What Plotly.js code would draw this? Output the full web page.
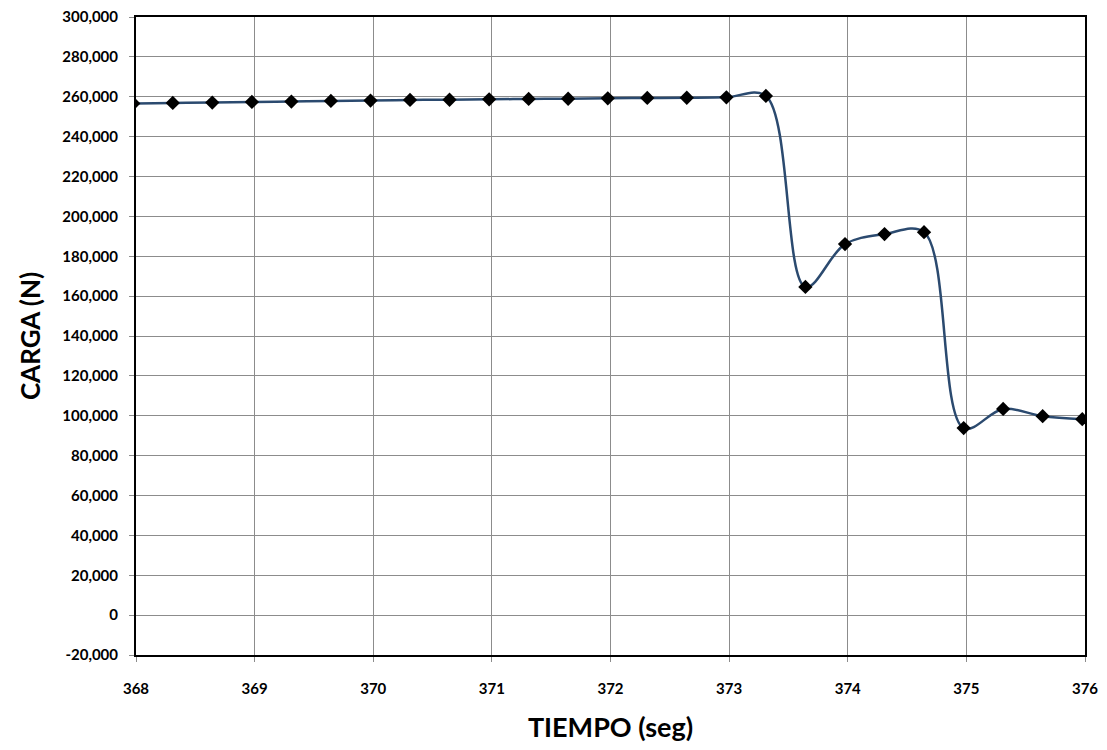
<!DOCTYPE html>
<html>
<head>
<meta charset="utf-8">
<script src="https://cdn.plot.ly/plotly-3.0.1.min.js"></script>
<style>html,body{margin:0;padding:0;background:#fff;}#chart{width:1107px;height:750px;}</style>
</head>
<body>
<div id="chart"></div>
<script>
// Time (s) and load (N)
const tiempo = [367.977, 368.31, 368.643, 368.977, 369.31, 369.643, 369.977, 370.31, 370.643, 370.977,
  371.31, 371.643, 371.977, 372.31, 372.643, 372.977, 373.31, 373.643, 373.977, 374.31,
  374.643, 374.977, 375.31, 375.643, 375.977];
const carga = [256600, 256900, 257100, 257400, 257600, 257900, 258100, 258400, 258500, 258700,
  258900, 259000, 259200, 259400, 259500, 259700, 260400, 164600, 186100, 191100,
  192100, 93800, 103400, 99800, 98300];
const xTicks = [368, 369, 370, 371, 372, 373, 374, 375, 376];
const yTicks = [-20000, 0, 20000, 40000, 60000, 80000, 100000, 120000, 140000, 160000,
  180000, 200000, 220000, 240000, 260000, 280000, 300000];
const yTickText = ["-20,000", "0", "20,000", "40,000", "60,000", "80,000", "100,000", "120,000",
  "140,000", "160,000", "180,000", "200,000", "220,000", "240,000", "260,000", "280,000", "300,000"];

const font = "Lato, 'Open Sans', sans-serif";
Plotly.newPlot('chart', [{
  x: tiempo, y: carga, type: 'scatter', mode: 'lines+markers',
  line: {color: '#2b4a6f', width: 2.5, shape: 'spline', smoothing: 1},
  marker: {symbol: 'diamond', color: '#000000', size: 11},
  cliponaxis: true
}], {
  width: 1107, height: 750,
  margin: {l: 136, r: 22, t: 17, b: 95},
  paper_bgcolor: '#ffffff', plot_bgcolor: '#ffffff',
  showlegend: false,
  font: {family: font, color: '#000000'},
  xaxis: {
    range: [368, 376], tickvals: xTicks, ticktext: xTicks.map(String),
    showgrid: true, gridcolor: '#8c8c8c', gridwidth: 1,
    showline: true, linecolor: '#000000', linewidth: 2, mirror: true,
    ticks: 'outside', ticklen: 5, tickcolor: '#8c8c8c',
    ticklabelstandoff: 14,
    tickfont: {family: font, size: 15, color: '#000000', weight: 'bold'},
    zeroline: false,
    title: {text: 'TIEMPO (seg)', font: {family: font, size: 27, color: '#000000', weight: 'bold'}, standoff: 22}
  },
  yaxis: {
    range: [-20000, 300000], tickvals: yTicks, ticktext: yTickText,
    showgrid: true, gridcolor: '#8c8c8c', gridwidth: 1,
    showline: true, linecolor: '#000000', linewidth: 2, mirror: true,
    ticks: 'outside', ticklen: 5, tickcolor: '#8c8c8c',
    ticklabelstandoff: 8,
    tickfont: {family: font, size: 15, color: '#000000', weight: 'bold'},
    zeroline: false,
    title: {text: 'CARGA (N)', font: {family: font, size: 26, color: '#000000', weight: 'bold'}, standoff: 14}
  }
}, {staticPlot: true, displayModeBar: false});
</script>
</body>
</html>
